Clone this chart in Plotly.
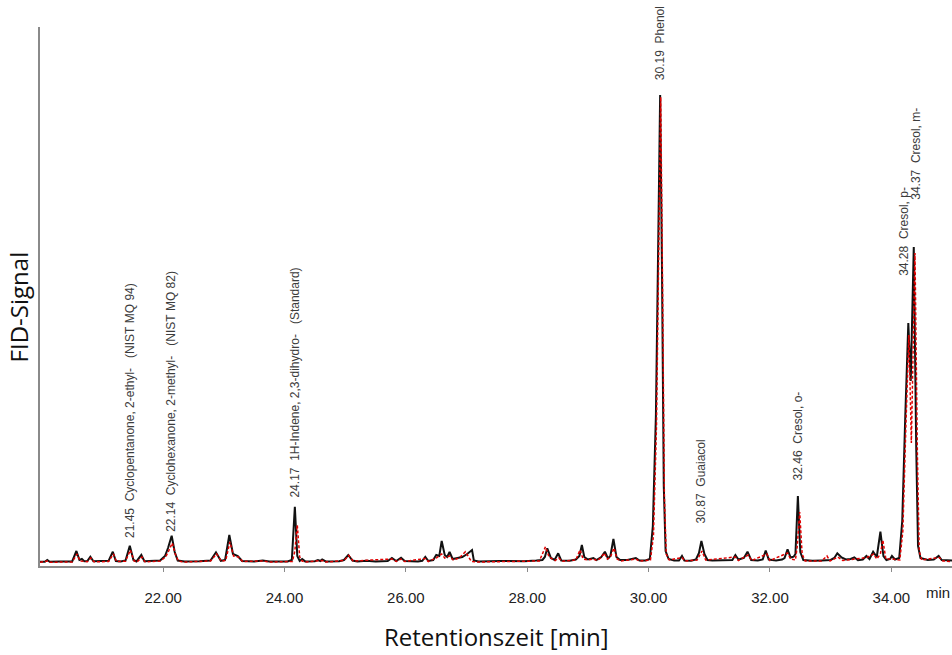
import numpy as np
import plotly.graph_objects as go

# --- FID chromatogram, sample run (black) ---
black_t = [19.97, 20.05, 20.09, 20.13, 20.30, 20.50, 20.57, 20.62, 20.66, 20.70,
           20.75, 20.80, 20.85, 21.00, 21.10, 21.17, 21.22, 21.30, 21.38, 21.45,
           21.51, 21.56, 21.64, 21.69, 21.85, 21.95, 22.03, 22.08, 22.14, 22.19,
           22.24, 22.35, 22.60, 22.78, 22.87, 22.95, 23.02, 23.09, 23.15, 23.23,
           23.30, 23.50, 23.64, 23.75, 24.05, 24.12, 24.17, 24.21, 24.25, 24.29,
           24.34, 24.50, 24.55, 24.59, 24.62, 24.68, 24.90, 24.98, 25.05, 25.12,
           25.20, 25.35, 25.50, 25.70, 25.77, 25.84, 25.92, 25.98, 26.20, 26.27,
           26.32, 26.37, 26.45, 26.50, 26.55, 26.59, 26.64, 26.68, 26.72, 26.77,
           26.85, 26.93, 27.01, 27.09, 27.12, 27.20, 27.55, 27.95, 28.15, 28.25,
           28.29, 28.33, 28.39, 28.45, 28.51, 28.56, 28.70, 28.80, 28.86, 28.90,
           28.94, 29.00, 29.09, 29.14, 29.22, 29.28, 29.33, 29.37, 29.42, 29.47,
           29.53, 29.65, 29.79, 29.85, 29.95, 30.02, 30.07, 30.12, 30.16, 30.19,
           30.22, 30.25, 30.28, 30.33, 30.42, 30.50, 30.55, 30.59, 30.70, 30.78,
           30.83, 30.87, 30.92, 30.97, 31.05, 31.25, 31.38, 31.43, 31.48, 31.57,
           31.63, 31.69, 31.80, 31.88, 31.93, 31.98, 32.10, 32.20, 32.24, 32.29,
           32.34, 32.39, 32.42, 32.46, 32.50, 32.55, 32.70, 32.85, 33.00, 33.06,
           33.11, 33.18, 33.25, 33.33, 33.39, 33.45, 33.53, 33.59, 33.64, 33.70,
           33.76, 33.82, 33.87, 33.92, 33.98, 34.01, 34.06, 34.13, 34.18, 34.23,
           34.28, 34.32, 34.37, 34.41, 34.44, 34.48, 34.60, 34.70, 34.78, 34.83,
           34.92, 35.00]
black_s = [4.2, 4.3, 6.0, 4.3, 4.5, 4.6, 15.0, 6.0, 7.0, 4.8,
           5.0, 9.3, 4.8, 4.6, 5.2, 14.3, 5.0, 4.6, 5.5, 20.3,
           6.0, 4.6, 11.0, 4.8, 4.8, 5.5, 10.0, 18.0, 30.3, 14.0,
           5.5, 4.6, 4.8, 5.5, 13.7, 5.2, 6.0, 31.0, 12.0, 10.0,
           5.0, 4.6, 5.5, 4.5, 4.6, 6.0, 59.3, 10.0, 5.0, 7.0,
           4.6, 4.8, 6.0, 5.0, 6.5, 4.6, 4.8, 6.0, 11.0, 5.5,
           4.6, 5.3, 4.6, 5.0, 8.0, 5.0, 8.3, 5.0, 4.6, 5.2,
           9.0, 5.0, 6.0, 11.0, 10.0, 25.0, 11.0, 9.0, 14.0, 7.0,
           8.0, 9.0, 12.0, 16.0, 5.5, 4.5, 5.0, 4.8, 5.5, 6.0,
           9.0, 17.7, 8.0, 6.0, 12.7, 5.5, 5.3, 6.5, 10.0, 21.0,
           9.0, 6.5, 8.0, 6.0, 9.0, 14.3, 7.5, 10.0, 27.0, 9.0,
           6.0, 6.0, 8.0, 5.5, 5.5, 7.0, 40.0, 150.0, 330.0, 471.0,
           300.0, 80.0, 15.0, 7.0, 5.5, 5.5, 10.0, 5.5, 5.2, 6.5,
           13.0, 25.0, 12.0, 6.0, 5.5, 5.5, 6.0, 11.0, 6.5, 8.0,
           14.3, 6.0, 5.5, 6.5, 15.3, 6.5, 5.5, 6.5, 8.0, 16.7,
           8.5, 9.3, 12.0, 70.0, 14.0, 6.0, 5.2, 5.5, 6.0, 8.0,
           12.7, 8.5, 6.5, 7.0, 8.7, 5.8, 6.5, 10.0, 7.0, 14.3,
           9.0, 34.3, 10.0, 6.0, 7.0, 10.0, 6.5, 8.0, 45.0, 150.0,
           243.0, 185.0, 319.0, 120.0, 20.0, 8.0, 6.0, 6.5, 10.0, 6.0,
           5.5, 5.5]

# --- FID chromatogram, reference run (red, dashed) ---
red_t = [19.97, 20.09, 20.13, 20.50, 20.58, 20.63, 20.75, 20.81, 20.86, 21.10,
         21.18, 21.23, 21.38, 21.46, 21.52, 21.57, 21.65, 21.70, 21.95, 22.04,
         22.09, 22.15, 22.20, 22.25, 22.35, 22.78, 22.88, 22.96, 23.03, 23.10,
         23.16, 23.24, 23.31, 23.64, 23.75, 24.13, 24.17, 24.21, 24.25, 24.29,
         24.34, 24.55, 24.62, 24.68, 24.98, 25.06, 25.13, 25.77, 25.84, 25.92,
         25.98, 26.32, 26.37, 26.50, 26.59, 26.64, 26.72, 26.78, 26.88, 26.98,
         27.04, 27.08, 27.20, 28.20, 28.30, 28.36, 28.46, 28.52, 28.57, 28.80,
         28.87, 28.92, 29.00, 29.09, 29.15, 29.21, 29.27, 29.32, 29.37, 29.43,
         29.48, 29.55, 29.79, 29.85, 30.03, 30.08, 30.13, 30.17, 30.20, 30.23,
         30.26, 30.29, 30.34, 30.55, 30.60, 30.80, 30.88, 30.94, 31.43, 31.48,
         31.64, 31.70, 31.95, 32.00, 32.29, 32.34, 32.42, 32.45, 32.49, 32.53,
         32.58, 32.85, 32.94, 32.99, 33.12, 33.20, 33.40, 33.60, 33.71, 33.76,
         33.82, 33.86, 33.91, 34.01, 34.14, 34.19, 34.24, 34.29, 34.33, 34.39,
         34.43, 34.46, 34.50, 34.79, 34.85, 35.00]
red_s = [3.8, 5.0, 3.8, 4.0, 12.0, 5.0, 4.2, 8.0, 4.2, 4.5,
         12.0, 4.5, 4.8, 16.0, 5.0, 4.0, 9.0, 4.2, 5.0, 9.0,
         15.0, 23.0, 12.0, 5.0, 4.0, 5.0, 12.0, 4.8, 5.5, 24.0,
         10.0, 9.0, 4.5, 5.0, 4.0, 4.5, 15.0, 41.0, 9.0, 5.0,
         4.0, 5.0, 5.5, 4.0, 5.5, 10.5, 5.0, 7.0, 4.5, 7.0,
         4.5, 7.5, 4.5, 8.0, 12.0, 8.0, 10.0, 6.0, 8.0, 14.3,
         8.0, 4.5, 4.0, 5.0, 19.3, 9.0, 5.5, 8.0, 4.8, 6.0,
         16.0, 7.0, 6.0, 7.0, 5.5, 8.0, 13.0, 7.0, 9.0, 18.0,
         7.0, 5.0, 7.0, 5.0, 6.0, 30.0, 140.0, 320.0, 469.0, 280.0,
         70.0, 12.0, 6.0, 8.5, 5.0, 6.0, 15.0, 6.0, 9.0, 5.5,
         11.0, 5.5, 12.0, 5.5, 13.0, 7.0, 6.0, 20.0, 54.0, 12.0,
         5.0, 5.0, 10.0, 5.0, 9.0, 5.5, 7.0, 8.5, 12.0, 7.0,
         12.0, 26.0, 7.0, 7.0, 6.0, 35.0, 140.0, 231.0, 123.0, 313.0,
         110.0, 15.0, 6.0, 8.5, 5.0, 4.5]

# --- identified peaks ---
peak_times = [21.45, 22.14, 24.17, 30.19, 30.87, 32.46, 34.28, 34.37]
peak_names = ["Cyclopentanone, 2-ethyl-   (NIST MQ 94)",
              "Cyclohexanone, 2-methyl-   (NIST MQ 82)",
              "1H-Indene, 2,3-dihydro-   (Standard)",
              "Phenol",
              "Guaiacol",
              "Cresol, o-",
              "Cresol, p-",
              "Cresol, m-"]

# --- x axis ticks ---
tick_vals = [22, 24, 26, 28, 30, 32, 34]
tick_text = ["22.00", "24.00", "26.00", "28.00", "30.00", "32.00", "34.00"]

# label placement (pixels above apex, horizontal nudge)
label_lift = [6, 2, 7, 13, 16, 14, 45, 45]
label_nudge = [0, 0, 0, 0, 0, 0, -5, 2]

AXIS_GREY = "#8a8a8a"
LABEL_FONT = dict(family="Arial, Liberation Sans, sans-serif", size=12, color="#3c3c3c")
TICK_FONT = dict(family="Arial, Liberation Sans, sans-serif", size=15, color="#222222")
TITLE_FONT = dict(family="Open Sans, sans-serif", size=24, color="#111111")

fig = go.Figure()
fig.add_trace(go.Scatter(x=black_t, y=black_s, mode="lines",
                         line=dict(color="#111111", width=2), hoverinfo="skip"))
fig.add_trace(go.Scatter(x=red_t, y=red_s, mode="lines",
                         line=dict(color="#e00000", width=1.5, dash="3px,2px"),
                         hoverinfo="skip"))

nb = "\u00a0"
for t, name, lift, nudge in zip(peak_times, peak_names, label_lift, label_nudge):
    apex = float(np.interp(t, black_t, black_s))
    text = f"{t:.2f}{nb}{nb}" + name.replace(" ", nb)
    fig.add_annotation(x=t, y=apex, xref="x", yref="y", text=text,
                       textangle=-90, showarrow=False, xanchor="center",
                       yanchor="bottom", yshift=lift, xshift=nudge, font=LABEL_FONT)

# unit next to the last tick
fig.add_annotation(x=1.0, y=0, xref="paper", yref="paper", text="min",
                   showarrow=False, xanchor="right", yanchor="top", yshift=-16,
                   font=TICK_FONT)

# axis titles (placed in the margins)
fig.add_annotation(x=-0.024, y=0.48, xref="paper", yref="paper",
                   xanchor="center", yanchor="middle", text="FID-Signal", textangle=-90,
                   showarrow=False, font=TITLE_FONT)
fig.add_annotation(x=0.5, y=-0.13, xref="paper", yref="paper",
                   xanchor="center", yanchor="middle", text="Retentionszeit [min]",
                   showarrow=False, font=TITLE_FONT)

fig.update_layout(
    width=952, height=655,
    margin=dict(l=40, r=0, t=27, b=89),
    paper_bgcolor="white", plot_bgcolor="white",
    showlegend=False,
)
fig.update_xaxes(range=[19.97, 35.0], tickvals=tick_vals, ticktext=tick_text,
                 showgrid=False, zeroline=False, showline=True, linecolor=AXIS_GREY,
                 linewidth=1.5, ticks="outside", ticklen=4, tickcolor=AXIS_GREY,
                 tickfont=TICK_FONT, ticklabelstandoff=13)
fig.update_yaxes(range=[0, 539], showticklabels=False, showgrid=False, zeroline=False,
                 showline=True, linecolor=AXIS_GREY, linewidth=1.5, ticks="")

fig.write_html("out.html")
